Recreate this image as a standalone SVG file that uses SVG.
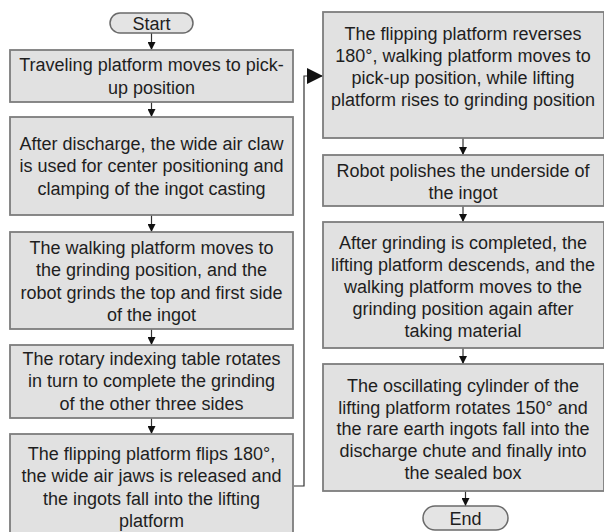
<svg xmlns="http://www.w3.org/2000/svg" width="604" height="532" viewBox="0 0 604 532">
<defs>
<style>
.box{fill:#e1e1e1;stroke:#7d7d7d;stroke-width:1.8}
.term{fill:#e4e4e4;stroke:#6a6a6a;stroke-width:1.5}
.t{font-family:"Liberation Sans",Arial,sans-serif;font-size:18px;fill:#1e1e1e;text-anchor:middle}
.c{fill:none;stroke:#333;stroke-width:1.2}
</style>
<marker id="ah" markerWidth="8" markerHeight="8" refX="8" refY="4" orient="auto" markerUnits="userSpaceOnUse">
<path d="M0,0 L8,4 L0,8 Z" fill="#111"/>
</marker>
<marker id="ahb" markerWidth="16" markerHeight="16" refX="16" refY="8" orient="auto" markerUnits="userSpaceOnUse">
<path d="M0,0 L16,8 L0,16 Z" fill="#111"/>
</marker>
</defs>
<rect width="604" height="532" fill="#ffffff"/>
<g id="connectors">
<line class="c" x1="151.5" y1="33" x2="151.5" y2="50" marker-end="url(#ah)"/>
<line class="c" x1="151.5" y1="102" x2="151.5" y2="117" marker-end="url(#ah)"/>
<line class="c" x1="151.5" y1="215" x2="151.5" y2="232" marker-end="url(#ah)"/>
<line class="c" x1="151.5" y1="329" x2="151.5" y2="345" marker-end="url(#ah)"/>
<line class="c" x1="151.5" y1="418" x2="151.5" y2="434" marker-end="url(#ah)"/>
<polyline class="c" points="294,486 304,486 304,76 323,76" marker-end="url(#ahb)"/>
<line class="c" x1="463" y1="138" x2="463" y2="155" marker-end="url(#ah)"/>
<line class="c" x1="463" y1="206" x2="463" y2="222" marker-end="url(#ah)"/>
<line class="c" x1="463" y1="348" x2="463" y2="364" marker-end="url(#ah)"/>
<line class="c" x1="465.5" y1="491" x2="465.5" y2="506" marker-end="url(#ah)"/>
</g>
<g id="start">
<rect class="term" x="110" y="13" width="83" height="20" rx="10"/>
<text class="t" x="151.5" y="29.5">Start</text>
</g>
<g id="n1">
<rect class="box" x="10" y="50" width="283" height="52"/>
<text class="t" x="151.5" y="71">Traveling platform moves to pick-</text>
<text class="t" x="151.5" y="93.5">up position</text>
</g>
<g id="n2">
<rect class="box" x="10" y="117" width="283" height="98"/>
<text class="t" x="151.5" y="149.5">After discharge, the wide air claw</text>
<text class="t" x="151.5" y="172">is used for center positioning and</text>
<text class="t" x="151.5" y="194.5">clamping of the ingot casting</text>
</g>
<g id="n3">
<rect class="box" x="10" y="232" width="283" height="97"/>
<text class="t" x="151.5" y="253.5">The walking platform moves to</text>
<text class="t" x="151.5" y="276">the grinding position, and the</text>
<text class="t" x="151.5" y="298.5">robot grinds the top and first side</text>
<text class="t" x="151.5" y="321">of the ingot</text>
</g>
<g id="n4">
<rect class="box" x="10" y="345" width="283" height="73"/>
<text class="t" x="151.5" y="364.5">The rotary indexing table rotates</text>
<text class="t" x="151.5" y="387">in turn to complete the grinding</text>
<text class="t" x="151.5" y="409.5">of the other three sides</text>
</g>
<g id="n5">
<rect class="box" x="10" y="434" width="283" height="106"/>
<text class="t" x="151.5" y="459.5">The  flipping platform flips 180°,</text>
<text class="t" x="151.5" y="482">the wide air jaws is released and</text>
<text class="t" x="151.5" y="504.5">the ingots fall into the lifting</text>
<text class="t" x="151.5" y="527">platform</text>
</g>
<g id="n6">
<rect class="box" x="323" y="12" width="281" height="126"/>
<text class="t" x="463" y="39.5">The  flipping platform reverses</text>
<text class="t" x="463" y="62">180°, walking platform moves to</text>
<text class="t" x="463" y="84">pick-up position, while lifting</text>
<text class="t" x="463" y="106">platform rises to grinding position</text>
</g>
<g id="n7">
<rect class="box" x="323" y="155" width="281" height="51"/>
<text class="t" x="463" y="176.5">Robot polishes the underside of</text>
<text class="t" x="463" y="199">the ingot</text>
</g>
<g id="n8">
<rect class="box" x="323" y="222" width="281" height="126"/>
<text class="t" x="463" y="248.5">After grinding is completed, the</text>
<text class="t" x="463" y="270.5">lifting platform descends, and the</text>
<text class="t" x="463" y="292.5">walking platform moves to the</text>
<text class="t" x="463" y="314.5">grinding position again after</text>
<text class="t" x="463" y="336.5">taking material</text>
</g>
<g id="n9">
<rect class="box" x="323" y="364" width="281" height="127"/>
<text class="t" x="463" y="391.5">The oscillating cylinder of the</text>
<text class="t" x="463" y="413.5">lifting platform rotates 150° and</text>
<text class="t" x="463" y="435">the rare earth ingots fall into the</text>
<text class="t" x="463" y="456.5">discharge chute and finally into</text>
<text class="t" x="463" y="478.5">the sealed box</text>
</g>
<g id="end">
<rect class="term" x="423" y="506" width="85" height="24" rx="12"/>
<text class="t" x="465.5" y="524.5">End</text>
</g>
</svg>
